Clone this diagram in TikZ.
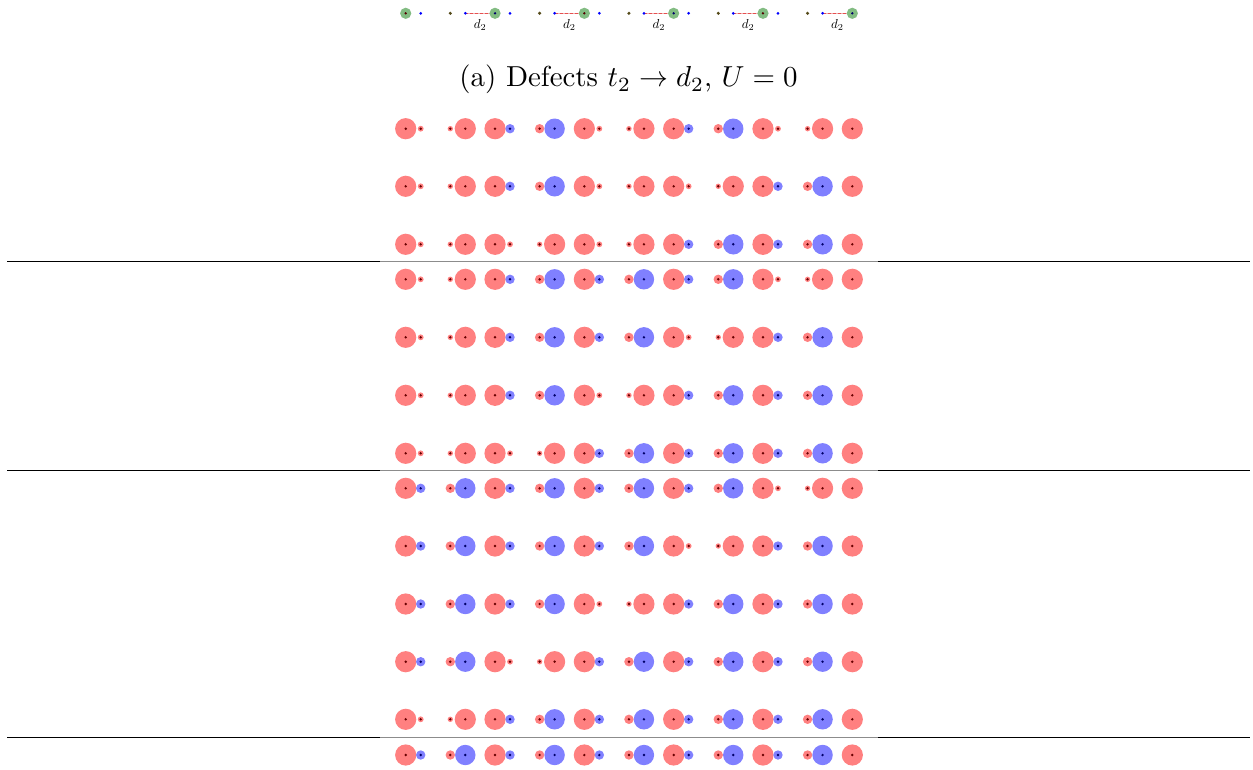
\documentclass[tikz,border=0pt]{standalone}
\definecolor{pr}{RGB}{255,128,128}
\definecolor{pb}{RGB}{128,128,255}
\definecolor{pg}{RGB}{130,188,130}
\definecolor{dr}{RGB}{105,0,0}
\definecolor{db}{RGB}{0,0,105}
\definecolor{olv}{RGB}{85,75,25}
\definecolor{dashred}{RGB}{230,80,80}
\definecolor{dashpink}{RGB}{240,175,175}
\newcommand\dsite[4]{\fill[#3] (#1) circle[radius=#2pt]; \fill[#4] (#1) circle[radius=1.35pt];}
\newcommand\chainrow[6]{%
  \foreach \k in {0,...,5}{\pgfmathsetmacro\xa{405.7+89.32*\k}\dsite{\xa,#1}{10.6}{pr}{dr}}%
  \foreach \k/\b in {0/#2,1/#3,2/#4,3/#5,4/#6}{%
    \pgfmathsetmacro\xa{405.7+89.32*\k}%
    \ifnum\b=1
      \dsite{\xa+15,#1}{4.7}{pb}{db}\dsite{\xa+44.6,#1}{4.7}{pr}{dr}\dsite{\xa+59.6,#1}{10.2}{pb}{db}%
    \else
      \dsite{\xa+15,#1}{2.9}{pr}{dr}\dsite{\xa+44.6,#1}{2.7}{pr}{dr}\dsite{\xa+59.6,#1}{10.6}{pr}{dr}%
    \fi}}
\tikzset{
  rule/.style={black, line width=1.3pt},
  innerrule/.style={black!45, line width=0.8pt},
  bond/.style={dashred, line width=1.4pt, dash pattern=on 3pt off 2pt},
  bondbase/.style={dashpink, line width=1.4pt},
  lbl/.style={scale=1.3, inner sep=0pt},
  captionstyle/.style={scale=2.89, anchor=base, inner sep=0pt}
}
\begin{document}
\begin{tikzpicture}[x=1pt, y=-1pt]
\useasboundingbox (0,0) rectangle (1253,769);
% top row (bottom of previous panel)
\foreach \k in {0,...,4}{%
  \pgfmathsetmacro\xa{405.7+89.32*\k}%
  \coordinate (p\k) at (\xa+59.6,13.3);
  \coordinate (q\k) at (\xa+89.32,13.3);
  \draw[bondbase] (p\k) -- (q\k);
  \draw[bond] (p\k) -- (q\k);
  \node[lbl] (d\k) at (\xa+74.5,25) {$d_2$};
  \fill[blue] (\xa+15,13.3) circle[radius=1.5pt];
  \fill[olv] (\xa+44.6,13.3) circle[radius=1.7pt];
  \fill[blue] (\xa+59.6,13.3) circle[radius=1.5pt];
}
\foreach \k in {0,...,5}{%
  \pgfmathsetmacro\xa{405.7+89.32*\k}%
  \fill[pg] (\xa,13.3) circle[radius=5.6pt];
  \ifodd\k \fill[db] (\xa,13.3) circle[radius=1.3pt];
  \else \fill[dr!80!black] (\xa,13.3) circle[radius=1.3pt];\fi
}
\node[captionstyle] (cap) at (628.5,86.7) {(a) Defects $t_2 \to d_2$, $U=0$};
% rules
\foreach \yy in {261.7,470.7,737.3}{%
  \draw[rule] (7,\yy) -- (380,\yy);
  \draw[innerrule] (380,\yy) -- (878,\yy);
  \draw[rule] (878,\yy) -- (1250,\yy);
}
% rows
\chainrow{128.7}{0}{1}{0}{1}{0}
\chainrow{186.3}{0}{1}{0}{0}{1}
\chainrow{244.3}{0}{0}{0}{1}{1}
\chainrow{279.3}{0}{1}{1}{1}{0}
\chainrow{337.3}{0}{1}{1}{0}{1}
\chainrow{395.3}{0}{1}{0}{1}{1}
\chainrow{453.3}{0}{0}{1}{1}{1}
\chainrow{488.3}{1}{1}{1}{1}{0}
\chainrow{546.0}{1}{1}{1}{0}{1}
\chainrow{604.0}{1}{1}{0}{1}{1}
\chainrow{661.7}{1}{0}{1}{1}{1}
\chainrow{719.3}{0}{1}{1}{1}{1}
\chainrow{755.0}{1}{1}{1}{1}{1}
\end{tikzpicture}
\end{document}
